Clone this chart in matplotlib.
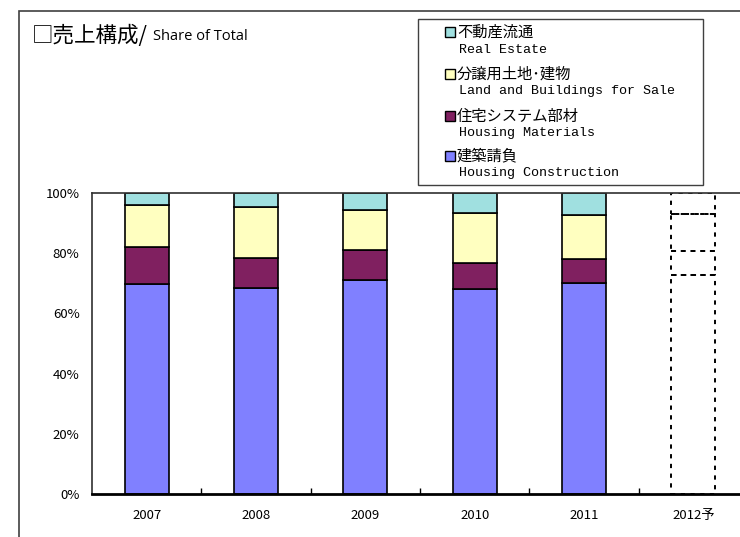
import numpy as np
import matplotlib
matplotlib.use("Agg")
import matplotlib.pyplot as plt
from matplotlib.patches import Rectangle

plt.rcParams['font.family'] = ['Noto Sans CJK JP', 'DejaVu Sans']

years = ["2007", "2008", "2009", "2010", "2011", "2012予"]
# shares in %, bottom to top
construction = [69.7, 68.3, 71.1, 68.2, 70.0, 72.8]
materials = [12.4, 10.2, 9.9, 8.6, 8.1, 7.9]
land = [14.0, 16.8, 13.4, 16.4, 14.7, 12.4]
real_estate = [3.9, 4.7, 5.6, 6.8, 7.2, 6.9]

names_jp = ["建築請負", "住宅システム部材", "分譲用土地･建物", "不動産流通"]
names_en = ["Housing Construction", "Housing Materials",
            "Land and Buildings for Sale", "Real Estate"]
colors = ["#8080FF", "#802060", "#FFFFC0", "#A0E0E0"]

W, H = 740, 537
fig = plt.figure(figsize=(W / 100, H / 100), dpi=100)

# frame around the whole chart (runs off right and bottom)
fig.patches.append(Rectangle((19 / W, -0.1), 1.2, 1 - 11 / H + 0.1,
                             transform=fig.transFigure, fill=False,
                             edgecolor="#404040", linewidth=1.2))

ax = fig.add_axes([92 / W, 1 - 494 / H, (748 - 92) / W, (494 - 193) / H])

series = [construction, materials, land, real_estate]
x = np.arange(len(years))
bottom = np.zeros(len(years))
n_actual = 5
for vals, col in zip(series, colors):
    vals = np.array(vals)
    ax.bar(x[:n_actual], vals[:n_actual], 0.4, bottom=bottom[:n_actual],
           color=col, edgecolor="black", linewidth=1.2, zorder=2)
    # forecast year: empty dashed boxes
    ax.bar(x[n_actual:], vals[n_actual:], 0.4, bottom=bottom[n_actual:],
           facecolor="none", edgecolor="black", linewidth=1.4,
           linestyle=(0, (2.2, 2.8)), zorder=2)
    bottom += vals

ax.set_xlim(-0.5, len(years) - 0.5)
ax.set_ylim(0, 100)
ax.set_yticks(np.arange(0, 101, 20))
ax.set_yticklabels([f"{v}%" for v in range(0, 101, 20)], fontsize=9.5)
ax.set_xticks(x)
ax.set_xticklabels(years, fontsize=9.5)
ax.set_xticks(np.arange(0.5, len(years), 1), minor=True)
ax.tick_params(axis="y", length=0, pad=9)
ax.tick_params(axis="x", which="major", length=0, pad=11)
ax.tick_params(axis="x", which="minor", direction="in", length=4, width=1)
for s in ["top", "right", "left"]:
    ax.spines[s].set_linewidth(1.2)
    ax.spines[s].set_color("#303030")
ax.spines["bottom"].set_linewidth(2)

# title
fig.text(32 / W, 1 - 36 / H, "□売上構成/", fontsize=15.5, va="center", ha="left")
fig.text(153 / W, 1 - 37 / H, "Share of Total", fontsize=10.5, va="center",
         ha="left", family=["Open Sans", "DejaVu Sans"])

# legend box drawn by hand (two-line entries, mixed fonts)
fig.patches.append(Rectangle((418 / W, 1 - 185 / H), (703 - 418) / W, (185 - 19) / H,
                             transform=fig.transFigure, facecolor="white",
                             edgecolor="#404040", linewidth=1.0, zorder=5))
jp_y = [32, 74, 116, 156]
en_y = [50, 91, 133, 173]
for i, k in enumerate([3, 2, 1, 0]):
    fig.patches.append(Rectangle((445 / W, 1 - (jp_y[i] + 5) / H), 10 / W, 10 / H,
                                 transform=fig.transFigure, facecolor=colors[k],
                                 edgecolor="black", linewidth=1.0, zorder=6))
    fig.text(457 / W, 1 - jp_y[i] / H, names_jp[k], fontsize=11, va="center",
             ha="left", zorder=6)
    fig.text(459 / W, 1 - en_y[i] / H, names_en[k], fontsize=9.6, va="center",
             ha="left", family=["Liberation Mono", "DejaVu Sans Mono"], zorder=6)

fig.savefig("out.png", dpi=100)
